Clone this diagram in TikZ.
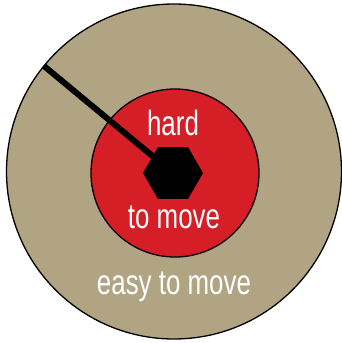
\documentclass[tikz,border=0pt]{standalone}
\usepackage{fontspec}
\setmainfont{Liberation Sans}[FakeStretch=0.74]
\usetikzlibrary{shapes.geometric}
\definecolor{tan}{RGB}{176,164,131}
\definecolor{redc}{RGB}{214,30,38}
\tikzset{
  lbl/.style={text=white, font=\fontsize{35}{35}\selectfont, inner sep=0pt, anchor=center},
}
\begin{document}
\begin{tikzpicture}[x=1pt,y=-1pt]
\useasboundingbox (0,0) rectangle (341,343);
\fill[white] (0,0) rectangle (341,343);
\node (outer) [circle, draw=black, line width=1.3pt, fill=tan, minimum size=335pt, inner sep=0pt] at (174,171.5) {};
\node (inner) [circle, draw=black, line width=1.3pt, fill=redc, minimum size=168pt, inner sep=0pt] at (175,173) {};
\coordinate (rimpt) at (44,66);
\coordinate (hexc) at (173,173);
\draw[line width=6pt] (rimpt) -- (hexc);
\node (hex) [regular polygon, regular polygon sides=6, fill=black, minimum size=60pt, inner sep=0pt] at (hexc) {};
\node (hard) [lbl] at (173,123) {hard};
\node (tomove) [lbl] at (174,217) {to move};
\node (easy) [lbl] at (174,287) {easy to move};
\end{tikzpicture}
\end{document}
